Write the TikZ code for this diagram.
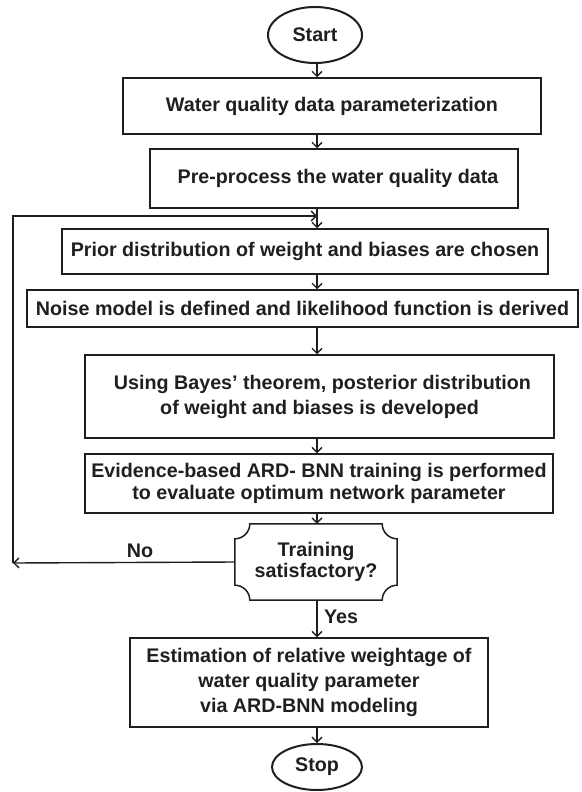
\documentclass[tikz,border=0pt]{standalone}
\usepackage{fontspec}
\setmainfont{Liberation Sans}
\usetikzlibrary{calc,shapes.geometric,arrows.meta}
\begin{document}
\begin{tikzpicture}[x=1pt,y=-1pt,
  font=\fontsize{19.7}{24}\selectfont\bfseries,
  line/.style={draw=black!88,line width=1.5pt},
  box/.style={line,rectangle,align=center,text=black!88,inner sep=0pt},
  term/.style={line,ellipse,line width=2pt,text=black!88,inner sep=0pt},
  arr/.style={draw=black!88,line width=1.4pt,-{Straight Barb[length=5pt,width=10pt]}},
  lbl/.style={text=black!88,inner sep=0pt}]
\useasboundingbox (0,0) rectangle (581,792);
\coordinate (spine) at (317,0);
\node[term,minimum width=94pt,minimum height=56pt] (start) at (315,35) {Start};
\node[box,minimum width=418pt,minimum height=56pt] (b1) at (332,106) {Water quality data parameterization};
\node[box,minimum width=368pt,minimum height=59pt] (b2) at (334,178.5) {\hspace*{8pt}Pre-process the water quality data};
\node[box,minimum width=486pt,minimum height=45pt] (b3) at (305,251.5) {Prior distribution of weight and biases are chosen};
\node[box,minimum width=551pt,minimum height=37pt] (b4) at (302.5,308.5) {Noise model is defined and likelihood function is derived};
\node[box,minimum width=469pt,minimum height=83pt,font=\fontsize{19.7}{25}\selectfont\bfseries] (b5) at (319.5,396.5) {\hspace*{6pt}Using Bayes' theorem, posterior distribution\\of weight and biases is developed};
\node[box,minimum width=468pt,minimum height=59pt,font=\fontsize{19.7}{22}\selectfont\bfseries] (b6) at (319,483.5) {Evidence-based ARD- BNN training is performed\\to evaluate optimum network parameter};
\node[lbl,minimum width=162pt,minimum height=76pt,align=center,font=\fontsize{19.7}{21.5}\selectfont\bfseries] (dec) at (316,562) {Training\\satisfactory?};
\draw[line]
  ($(dec.north west)+(15pt,0)$) -- ($(dec.north east)+(-15pt,0)$)
  .. controls ($(dec.north east)+(-15pt,-8.3pt)$) and ($(dec.north east)+(-8.3pt,-15pt)$) .. ($(dec.north east)+(0,-15pt)$)
  -- ($(dec.south east)+(0,15pt)$)
  .. controls ($(dec.south east)+(-8.3pt,15pt)$) and ($(dec.south east)+(-15pt,8.3pt)$) .. ($(dec.south east)+(-15pt,0)$)
  -- ($(dec.south west)+(15pt,0)$)
  .. controls ($(dec.south west)+(15pt,8.3pt)$) and ($(dec.south west)+(8.3pt,15pt)$) .. ($(dec.south west)+(0,15pt)$)
  -- ($(dec.north west)+(0,-15pt)$)
  .. controls ($(dec.north west)+(8.3pt,-15pt)$) and ($(dec.north west)+(15pt,-8.3pt)$) .. cycle;
\node[box,minimum width=358pt,minimum height=89pt,font=\fontsize{19.7}{25}\selectfont\bfseries] (b7) at (309,682.5) {Estimation of relative weightage of\\water quality parameter\\via ARD-BNN modeling};
\node[term,minimum width=90pt,minimum height=46pt] (stop) at (317,767) {Stop};
% connectors
\draw[arr] (start.south -| spine) -- (b1.north -| spine);
\draw[arr] (b1.south -| spine) -- (b2.north -| spine);
\draw[arr] (b2.south -| spine) -- (b3.north -| spine);
\draw[arr] (b3.south -| spine) -- (b4.north -| spine);
\draw[arr] (b4.south -| spine) -- (b5.north -| spine);
\draw[arr] (b5.south -| spine) -- (b6.north -| spine);
\draw[arr] (b6.south -| spine) -- (dec.north -| spine);
\draw[arr] (dec.south -| spine) -- (b7.north -| spine);
\draw[arr] (b7.south -| spine) -- (stop.north -| spine);
\coordinate (fb) at (13,563);
\coordinate (fbtop) at (13,216);
\draw[arr] (dec.west) -- (fb);
\draw[arr] (fb) -- (fbtop) -- (fbtop -| spine);
\node[lbl] (no) at (140,551) {No};
\node[lbl] (yes) at (341,617) {Yes};
\end{tikzpicture}
\end{document}
